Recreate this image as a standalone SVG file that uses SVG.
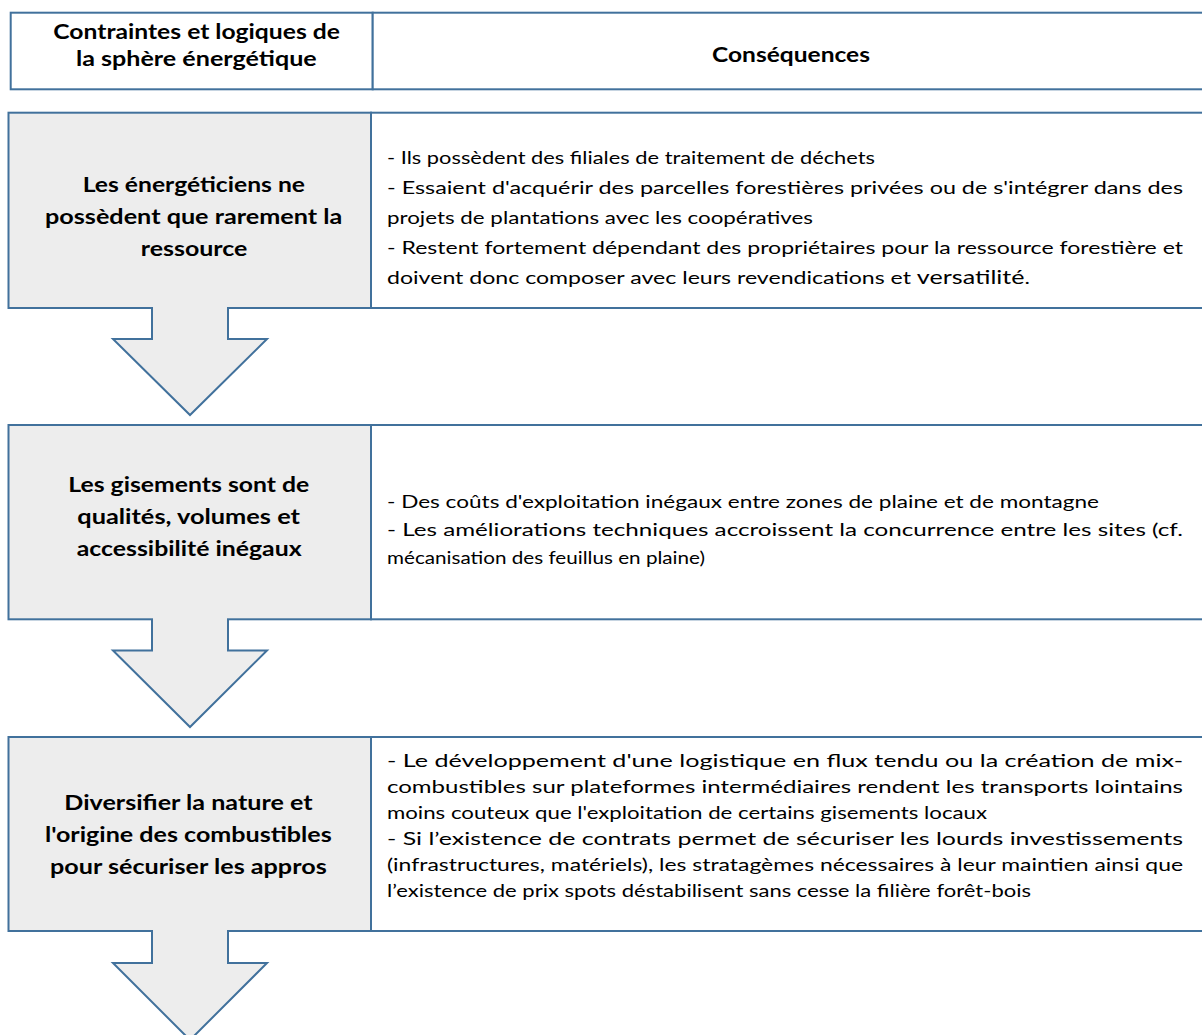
<svg xmlns="http://www.w3.org/2000/svg" width="1202" height="1035" viewBox="0 0 1202 1035">
<style>
.box{stroke:#41719C;stroke-width:2;stroke-linejoin:miter}
.gray{fill:#EDEDED}
.white{fill:#FFFFFF}
.h{font-family:Lato,'Liberation Sans',sans-serif;font-weight:bold;font-size:20px;fill:#000}
.t{font-family:Lato,'Liberation Sans',sans-serif;font-size:17.5px;fill:#000}
.afill{fill:#EDEDED;stroke:none}
.aline{fill:none;stroke:#41719C;stroke-width:2;stroke-linejoin:miter}
</style>
<rect width="1202" height="1035" fill="#FFFFFF"/>

<g id="header-left">
<rect class="box white" x="10.7" y="12.7" width="362" height="76.6"/>
<text class="h" x="53.3" y="39.3" textLength="286.7" lengthAdjust="spacingAndGlyphs">Contraintes et logiques de</text>
<text class="h" x="76" y="66" textLength="240.7" lengthAdjust="spacingAndGlyphs">la sphère énergétique</text>
</g>
<g id="header-right">
<rect class="box white" x="372.7" y="12.7" width="850" height="76.6"/>
<text class="h" x="712" y="62" textLength="158" lengthAdjust="spacingAndGlyphs">Conséquences</text>
</g>

<g id="row1-left">
<rect class="box gray" x="8.5" y="112.7" width="362.5" height="195.3"/>
<text class="h" x="82.7" y="191.5" textLength="222.3" lengthAdjust="spacingAndGlyphs">Les énergéticiens ne</text>
<text class="h" x="45" y="223.5" textLength="297.3" lengthAdjust="spacingAndGlyphs">possèdent que rarement la</text>
<text class="h" x="140.7" y="255.5" textLength="106.7" lengthAdjust="spacingAndGlyphs">ressource</text>
</g>
<g id="row1-right">
<rect class="box white" x="371" y="112.7" width="850" height="195.3"/>
<text class="t" x="387" y="163.5" textLength="488" lengthAdjust="spacingAndGlyphs">- Ils possèdent des filiales de traitement de déchets</text>
<text class="t" x="387" y="193.5" textLength="796" lengthAdjust="spacingAndGlyphs">- Essaient d'acquérir des parcelles forestières privées ou de s'intégrer dans des</text>
<text class="t" x="387" y="223.5" textLength="426" lengthAdjust="spacingAndGlyphs">projets de plantations avec les coopératives</text>
<text class="t" x="387" y="253.5" textLength="796" lengthAdjust="spacingAndGlyphs">- Restent fortement dépendant des propriétaires pour la ressource forestière et</text>
<text class="t" x="387" y="283.5" textLength="643" lengthAdjust="spacingAndGlyphs">doivent donc composer avec leurs revendications et <tspan font-size="19px">versatilité</tspan>.</text>
</g>

<g id="row2-left">
<rect class="box gray" x="8.5" y="425" width="362.5" height="194.3"/>
<text class="h" x="68.3" y="492" textLength="241" lengthAdjust="spacingAndGlyphs">Les gisements sont de</text>
<text class="h" x="77.3" y="524" textLength="222.7" lengthAdjust="spacingAndGlyphs">qualités, volumes et</text>
<text class="h" x="76.7" y="556" textLength="225" lengthAdjust="spacingAndGlyphs">accessibilité inégaux</text>
</g>
<g id="row2-right">
<rect class="box white" x="371" y="425" width="850" height="194.3"/>
<text class="t" x="387" y="508" textLength="712" lengthAdjust="spacingAndGlyphs">- Des coûts d'exploitation inégaux entre zones de plaine et de montagne</text>
<text class="t" x="387" y="536" textLength="796" lengthAdjust="spacingAndGlyphs">- Les améliorations techniques accroissent la concurrence entre les sites (cf.</text>
<text class="t" x="387" y="564" textLength="318" lengthAdjust="spacingAndGlyphs">mécanisation des feuillus en plaine)</text>
</g>

<g id="row3-left">
<rect class="box gray" x="8.5" y="737" width="362.5" height="194"/>
<text class="h" x="64.3" y="810" textLength="248.3" lengthAdjust="spacingAndGlyphs">Diversifier la nature et</text>
<text class="h" x="45" y="842" textLength="286.7" lengthAdjust="spacingAndGlyphs">l'origine des combustibles</text>
<text class="h" x="50" y="874" textLength="276.7" lengthAdjust="spacingAndGlyphs">pour sécuriser les appros</text>
</g>
<g id="row3-right">
<rect class="box white" x="371" y="737" width="850" height="194"/>
<text class="t" x="387" y="767" textLength="796" lengthAdjust="spacingAndGlyphs">- Le développement d'une logistique en flux tendu ou la création de mix-</text>
<text class="t" x="387" y="793" textLength="796" lengthAdjust="spacingAndGlyphs">combustibles sur plateformes intermédiaires rendent les transports lointains</text>
<text class="t" x="387" y="819" textLength="600" lengthAdjust="spacingAndGlyphs">moins couteux que l'exploitation de certains gisements locaux</text>
<text class="t" x="387" y="845" textLength="796" lengthAdjust="spacingAndGlyphs">- Si l’existence de contrats permet de sécuriser les lourds investissements</text>
<text class="t" x="387" y="871" textLength="796" lengthAdjust="spacingAndGlyphs">(infrastructures, matériels), les stratagèmes nécessaires à leur maintien ainsi que</text>
<text class="t" x="387" y="897" textLength="644" lengthAdjust="spacingAndGlyphs">l’existence de prix spots déstabilisent sans cesse la filière forêt-bois</text>
</g>

<g id="connectors">
<g id="arrow1">
<path class="afill" d="M153,304 V339 H113 L190,415 L267,339 H227 V304 Z"/>
<path class="aline" d="M152,308 V339 H113 L190,415 L267,339 H228 V308"/>
</g>
<g id="arrow2">
<path class="afill" d="M153,615 V650.5 H113 L190,727 L267,650.5 H227 V615 Z"/>
<path class="aline" d="M152,619.3 V650.5 H113 L190,727 L267,650.5 H228 V619.3"/>
</g>
<g id="arrow3">
<path class="afill" d="M153,927 V963 H113 L190,1040 L267,963 H227 V927 Z"/>
<path class="aline" d="M152,931 V963 H113 L190,1040 L267,963 H228 V931"/>
</g>
</g>
</svg>
